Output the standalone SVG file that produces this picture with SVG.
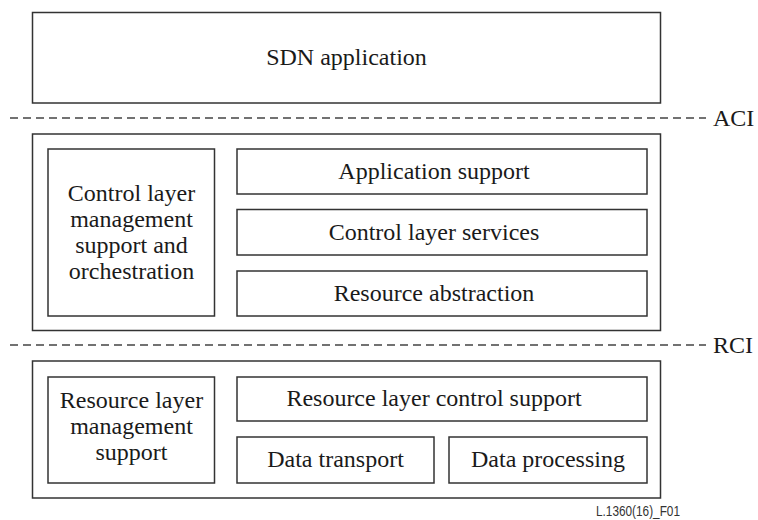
<svg xmlns="http://www.w3.org/2000/svg" width="758" height="520" viewBox="0 0 758 520">
  <style>
    .box { fill: #ffffff; stroke: #333333; stroke-width: 1.5; }
    .lbl { font-family: "Liberation Serif", "Times New Roman", serif; font-size: 24px; fill: #1a1a1a; text-anchor: middle; }
    .side { font-family: "Liberation Serif", "Times New Roman", serif; font-size: 24px; fill: #1a1a1a; }
    .iface { stroke: #444444; stroke-width: 1.5; stroke-dasharray: 8 5; fill: none; }
    .ref { font-family: "Liberation Sans", Arial, sans-serif; font-size: 14px; fill: #333333; }
  </style>
  <rect width="758" height="520" fill="#ffffff"/>

  <!-- application layer -->
  <g id="sdn-application">
    <rect class="box" x="32.5" y="12.5" width="628" height="90.5"/>
    <text class="lbl" x="346.5" y="65">SDN application</text>
  </g>

  <!-- interfaces -->
  <g id="interfaces">
    <line class="iface" x1="10" y1="118" x2="706" y2="118"/>
    <text class="side" x="713" y="126">ACI</text>
    <line class="iface" x1="10" y1="345" x2="706" y2="345"/>
    <text class="side" x="713" y="353">RCI</text>
  </g>

  <!-- control layer -->
  <g id="control-layer">
    <rect class="box" x="32.5" y="134" width="628" height="196.5"/>
  </g>
  <g id="control-layer-management">
    <rect class="box" x="48" y="149" width="166.5" height="167"/>
    <text class="lbl" x="131.5" y="200.5">Control layer</text>
    <text class="lbl" x="131.5" y="226.5">management</text>
    <text class="lbl" x="131.5" y="253">support and</text>
    <text class="lbl" x="131.5" y="279">orchestration</text>
  </g>
  <g id="application-support">
    <rect class="box" x="237" y="149" width="410" height="45"/>
    <text class="lbl" x="434" y="179">Application support</text>
  </g>
  <g id="control-layer-services">
    <rect class="box" x="237" y="209.5" width="410" height="45.5"/>
    <text class="lbl" x="434" y="239.5">Control layer services</text>
  </g>
  <g id="resource-abstraction">
    <rect class="box" x="237" y="271" width="410" height="45"/>
    <text class="lbl" x="434" y="301">Resource abstraction</text>
  </g>

  <!-- resource layer -->
  <g id="resource-layer">
    <rect class="box" x="32.5" y="361" width="628" height="137"/>
  </g>
  <g id="resource-layer-management">
    <rect class="box" x="48" y="377" width="166.5" height="106"/>
    <text class="lbl" x="131.5" y="408">Resource layer</text>
    <text class="lbl" x="131.5" y="434">management</text>
    <text class="lbl" x="131.5" y="460">support</text>
  </g>
  <g id="resource-layer-control-support">
    <rect class="box" x="237" y="377" width="410" height="44"/>
    <text class="lbl" x="434" y="406">Resource layer control support</text>
  </g>
  <g id="data-transport">
    <rect class="box" x="237" y="437" width="197" height="46"/>
    <text class="lbl" x="335.5" y="467">Data transport</text>
  </g>
  <g id="data-processing">
    <rect class="box" x="449" y="437" width="198" height="46"/>
    <text class="lbl" x="548" y="467">Data processing</text>
  </g>

  <text class="ref" x="596" y="516" textLength="84" lengthAdjust="spacingAndGlyphs">L.1360(16)_F01</text>
</svg>
